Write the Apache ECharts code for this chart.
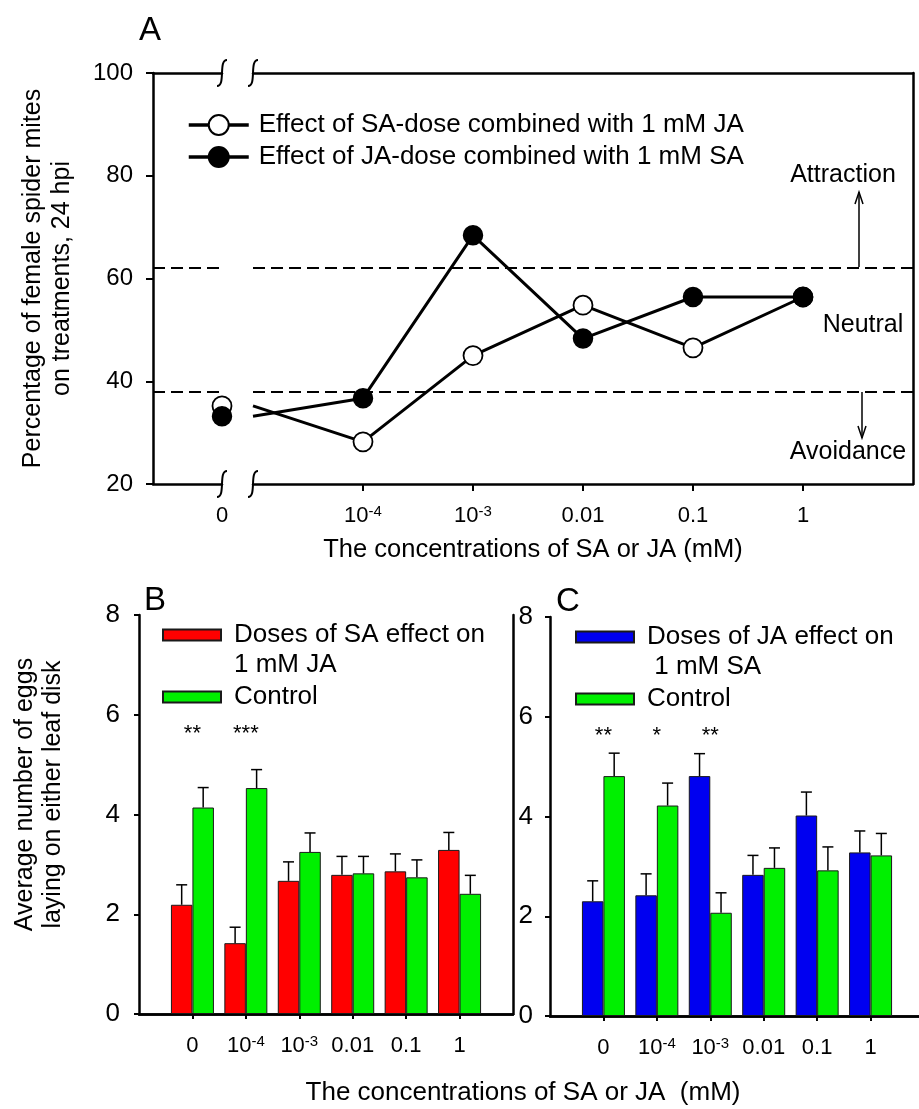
<!DOCTYPE html>
<html><head><meta charset="utf-8">
<script src="https://cdn.jsdelivr.net/npm/echarts@6/dist/echarts.min.js"></script>
<style>html,body{margin:0;padding:0;background:#fff}#c{width:919px;height:1109px}</style>
</head><body><div id="c"></div>
<script>
// ---------- Panel A data ----------
const concA = ['0', '10^-4', '10^-3', '0.01', '0.1', '1'];
const saDoseWithJA = [35.2, 28.2, 45.0, 54.8, 46.5, 56.4];   // open circles
const jaDoseWithSA = [33.2, 36.7, 68.4, 48.3, 56.4, 56.4];   // filled circles
const attractionLevel = 62;
const avoidanceLevel = 38;
const yTicksA = [20, 40, 60, 80, 100];

// ---------- Panel B / C data ----------
const concBC = ['0', '10^-4', '10^-3', '0.01', '0.1', '1'];
const saDoseEggs = [2.19, 1.42, 2.67, 2.79, 2.86, 3.29];
const saDoseErr  = [0.40, 0.32, 0.38, 0.37, 0.35, 0.35];
const ctrlBEggs  = [4.14, 4.53, 3.25, 2.82, 2.74, 2.41];
const ctrlBErr   = [0.40, 0.37, 0.38, 0.34, 0.35, 0.37];
const starsB     = ['**', '***', '', '', '', ''];
const jaDoseEggs = [2.30, 2.42, 4.81, 2.83, 4.02, 3.28];
const jaDoseErr  = [0.41, 0.43, 0.45, 0.39, 0.47, 0.43];
const ctrlCEggs  = [4.81, 4.22, 2.07, 2.97, 2.92, 3.22];
const ctrlCErr   = [0.46, 0.45, 0.40, 0.40, 0.47, 0.44];
const starsC     = ['**', '*', '**', '', '', ''];
const starLevel = 5.62;

const OPEN_NAME = 'Effect of SA-dose combined with 1 mM JA';
const FILLED_NAME = 'Effect of JA-dose combined with 1 mM SA';
const SA_NAME = 'Doses of SA effect on 1 mM JA';
const JA_NAME = 'Doses of JA effect on 1 mM SA';
const CTRL_NAME = 'Control';

const FONT = 'Liberation Sans, Arial, sans-serif';
const BAR_W = 21.5, CAP = 5.5;

const catsA0 = ['', concA[0]];
const catsA1 = [''].concat(concA.slice(1), ['']);
const catsBC = [''].concat(concBC, ['']);

function supFmt(v) {
  if (!v) return '';
  const m = v.match(/^(.*)\^(.*)$/);
  return m ? '{base|' + m[1] + '}{sup|' + m[2] + '}' : '{base|' + v + '}';
}
const supRich = {
  base: { fontSize: 22, fontFamily: FONT, color: '#000', lineHeight: 24 },
  sup: { fontSize: 15, fontFamily: FONT, color: '#000', verticalAlign: 'top', lineHeight: 14 }
};

const LW = 2.5;
function frameX(grid, data, pos) {
  return { gridIndex: grid, type: 'category', data: data, position: pos, boundaryGap: false,
    axisLine: { show: true, lineStyle: { color: '#000', width: LW } },
    axisTick: { show: false }, axisLabel: { show: false }, splitLine: { show: false } };
}
function frameY(grid, min, max, pos) {
  return { gridIndex: grid, type: 'value', min: min, max: max, position: pos,
    axisLine: { show: true, onZero: false, lineStyle: { color: '#000', width: LW } },
    axisTick: { show: false }, axisLabel: { show: false }, splitLine: { show: false } };
}
function catX(grid, data, fontSize, margin, tickLen, showTick) {
  return { gridIndex: grid, type: 'category', data: data, position: 'bottom', boundaryGap: false,
    axisLine: { show: true, onZero: false, lineStyle: { color: '#000', width: LW } },
    axisTick: { show: showTick, length: tickLen, lineStyle: { color: '#000', width: 2 },
      interval: function (i) { return i > 0 && i < data.length - 1; } },
    axisLabel: { interval: 0, color: '#000', fontSize: fontSize, fontFamily: FONT, margin: margin,
      lineHeight: 24, formatter: supFmt, rich: supRich },
    splitLine: { show: false } };
}

const dashed = { type: [12, 6], color: '#000', width: 2 };
function levelLines() {
  return { silent: true, symbol: ['none', 'none'], label: { show: false }, lineStyle: dashed,
    emphasis: { disabled: true },
    data: [{ yAxis: attractionLevel }, { yAxis: avoidanceLevel }] };
}
function lineSeries(name, xi, yi, data, filled, withMark) {
  const s = { name: name, type: 'line', xAxisIndex: xi, yAxisIndex: yi, data: data,
    symbol: 'circle', symbolSize: 19, clip: false, z: filled ? 4 : 3,
    itemStyle: filled ? { color: '#000', borderColor: '#000', borderWidth: 1.5 }
                      : { color: '#fff', borderColor: '#000', borderWidth: 1.8 },
    lineStyle: { color: '#000', width: 3 } };
  if (withMark) s.markLine = levelLines();
  return s;
}
function mainData(vals) {
  return vals.map(function (v, i) { return i === 0 ? { value: v, symbol: 'none' } : v; }).concat(['-']);
}
function barSeries(name, xi, yi, vals, color) {
  return { name: name, type: 'bar', xAxisIndex: xi, yAxisIndex: yi, barWidth: BAR_W, barGap: '0%',
    data: ['-'].concat(vals, ['-']),
    itemStyle: { color: color, borderColor: '#1a1a1a', borderWidth: 1 } };
}
function errSeries(xi, yi, vals, errs, side) {
  return { type: 'custom', xAxisIndex: xi, yAxisIndex: yi, silent: true, z: 5,
    data: vals.map(function (v, i) { return [i + 1, v, errs[i]]; }),
    renderItem: function (params, api) {
      const x = api.value(0), v = api.value(1), e = api.value(2);
      const p0 = api.coord([x, v]), p1 = api.coord([x, v + e]);
      const dx = side * BAR_W / 2;
      const st = { stroke: '#000', lineWidth: 1.5 };
      return { type: 'group', children: [
        { type: 'line', shape: { x1: p0[0] + dx, y1: p0[1], x2: p1[0] + dx, y2: p1[1] }, style: st },
        { type: 'line', shape: { x1: p1[0] + dx - CAP, y1: p1[1], x2: p1[0] + dx + CAP, y2: p1[1] }, style: st }
      ] };
    } };
}
function starSeries(xi, yi, stars) {
  const items = [];
  stars.forEach(function (s, i) { if (s) items.push({ value: [i + 1, starLevel], txt: s }); });
  return { type: 'custom', xAxisIndex: xi, yAxisIndex: yi, silent: true, z: 6,
    data: items.map(function (d) { return d.value; }),
    renderItem: function (params, api) {
      const p = api.coord([api.value(0), api.value(1)]);
      return { type: 'text', style: { text: items[params.dataIndex].txt, x: p[0], y: p[1],
        align: 'center', verticalAlign: 'middle', fill: '#000', font: '22px ' + FONT } };
    } };
}
function brk(x, y) {
  return { type: 'bezierCurve', silent: true,
    shape: { x1: x + 5, y1: y - 13, cpx1: x - 4, cpy1: y - 13, cpx2: x + 4, cpy2: y + 13, x2: x - 5, y2: y + 13 },
    style: { stroke: '#000', lineWidth: 2, fill: null } };
}
function txt(t, x, y, size) {
  return { type: 'text', silent: true, x: x, y: y,
    style: { text: t, fill: '#000', font: size + 'px ' + FONT, align: 'center', verticalAlign: 'middle' } };
}

const chart = echarts.init(document.getElementById('c'), null, { renderer: 'canvas' });
chart.setOption({
  animation: false,
  backgroundColor: '#fff',
  textStyle: { fontFamily: FONT, color: '#000' },
  title: [
    { text: 'A', left: 145, top: 9, textAlign: 'center', textStyle: { fontSize: 33, fontWeight: 'normal', color: '#000', fontFamily: FONT } },
    { text: 'B', left: 150, top: 579, textAlign: 'center', textStyle: { fontSize: 33, fontWeight: 'normal', color: '#000', fontFamily: FONT } },
    { text: 'C', left: 563, top: 580, textAlign: 'center', textStyle: { fontSize: 33, fontWeight: 'normal', color: '#000', fontFamily: FONT } },
    { text: 'The concentrations of SA or JA  (mM)', left: 518, top: 1075, textAlign: 'center',
      textStyle: { fontSize: 26, fontWeight: 'normal', color: '#000', fontFamily: FONT } }
  ],
  legend: [
    { data: [OPEN_NAME, FILLED_NAME], orient: 'vertical', left: 182, top: 105, itemWidth: 60, itemHeight: 25,
      itemGap: 2, selectedMode: false, lineStyle: { width: 3.5, color: '#000' },
      textStyle: { fontSize: 26, lineHeight: 30, color: '#000', fontFamily: FONT, padding: [0, 0, 0, 5] } },
    { data: [SA_NAME, CTRL_NAME], orient: 'vertical', left: 157, top: 585, itemWidth: 58, itemHeight: 11,
      itemGap: 2, icon: 'rect', selectedMode: false,
      formatter: function (n) { return n === SA_NAME ? '\nDoses of SA effect on\n1 mM JA' : n; },
      textStyle: { fontSize: 26, lineHeight: 30, color: '#000', fontFamily: FONT, padding: [0, 0, 0, 8] } },
    { data: [JA_NAME, CTRL_NAME], orient: 'vertical', left: 570, top: 587, itemWidth: 58, itemHeight: 11,
      itemGap: 2, icon: 'rect', selectedMode: false,
      formatter: function (n) { return n === JA_NAME ? '\nDoses of JA effect on\n 1 mM SA' : n; },
      textStyle: { fontSize: 26, lineHeight: 30, color: '#000', fontFamily: FONT, padding: [0, 0, 0, 8] } }
  ],
  grid: [
    { left: 153, top: 73, width: 69, height: 411, outerBoundsMode: 'none' },
    { left: 253, top: 73, width: 660, height: 411, outerBoundsMode: 'none' },
    { left: 139, top: 615, width: 374, height: 399, outerBoundsMode: 'none' },
    { left: 550, top: 617, width: 374, height: 399, outerBoundsMode: 'none' }
  ],
  xAxis: [
    catX(0, catsA0, 22, 20, 7, false),
    frameX(0, catsA0, 'top'),
    Object.assign(catX(1, catsA1, 22, 20, 7, true), {
      name: 'The concentrations of SA or JA (mM)', nameLocation: 'middle', nameGap: 53, nameMoveOverlap: false,
      nameTextStyle: { fontSize: 25.5, color: '#000', fontFamily: FONT, padding: [0, 100, 0, 0] } }),
    frameX(1, catsA1, 'top'),
    catX(2, catsBC, 22, 20, 5, true),
    frameX(2, catsBC, 'top'),
    catX(3, catsBC, 22, 20, 5, true),
    frameX(3, catsBC, 'top')
  ],
  yAxis: [
    { gridIndex: 0, type: 'value', min: yTicksA[0], max: yTicksA[yTicksA.length - 1], interval: 20,
      axisLine: { show: true, onZero: false, lineStyle: { color: '#000', width: LW } },
      axisTick: { show: true, length: 7, lineStyle: { color: '#000', width: 2 } },
      axisLabel: { color: '#000', fontSize: 24, fontFamily: FONT, margin: 20 },
      splitLine: { show: false },
      name: 'Percentage of female spider mites\non treatments, 24 hpi', nameLocation: 'middle', nameRotate: 90,
      nameGap: 76, nameMoveOverlap: false,
      nameTextStyle: { fontSize: 25, lineHeight: 29, color: '#000', fontFamily: FONT } },
    { gridIndex: 1, type: 'value', min: yTicksA[0], max: yTicksA[yTicksA.length - 1], show: false },
    frameY(1, yTicksA[0], yTicksA[yTicksA.length - 1], 'right'),
    { gridIndex: 2, type: 'value', min: 0, max: 8, interval: 2,
      axisLine: { show: true, onZero: false, lineStyle: { color: '#000', width: LW } },
      axisTick: { show: true, length: 5, lineStyle: { color: '#000', width: 2 } },
      axisLabel: { color: '#000', fontSize: 26, fontFamily: FONT, margin: 19 },
      splitLine: { show: false },
      name: 'Average number of eggs\nlaying on either leaf disk', nameLocation: 'middle', nameRotate: 90,
      nameGap: 72, nameMoveOverlap: false,
      nameTextStyle: { fontSize: 25, lineHeight: 28, color: '#000', fontFamily: FONT, padding: [0, 0, 0, 40] } },
    frameY(2, 0, 8, 'right'),
    { gridIndex: 3, type: 'value', min: 0, max: 8, interval: 2,
      axisLine: { show: true, onZero: false, lineStyle: { color: '#000', width: LW } },
      axisTick: { show: true, length: 5, lineStyle: { color: '#000', width: 2 } },
      axisLabel: { color: '#000', fontSize: 26, fontFamily: FONT, margin: 17 },
      splitLine: { show: false } },
    frameY(3, 0, 8, 'right')
  ],
  series: [
    lineSeries(OPEN_NAME, 0, 0, ['-', saDoseWithJA[0]], false, true),
    lineSeries(FILLED_NAME, 0, 0, ['-', jaDoseWithSA[0]], true, false),
    lineSeries(OPEN_NAME, 2, 1, mainData(saDoseWithJA), false, true),
    lineSeries(FILLED_NAME, 2, 1, mainData(jaDoseWithSA), true, false),

    barSeries(SA_NAME, 4, 3, saDoseEggs, '#ff0000'),
    barSeries(CTRL_NAME, 4, 3, ctrlBEggs, '#00f000'),
    errSeries(4, 3, saDoseEggs, saDoseErr, -1),
    errSeries(4, 3, ctrlBEggs, ctrlBErr, 1),
    starSeries(4, 3, starsB),

    barSeries(JA_NAME, 6, 5, jaDoseEggs, '#0000f0'),
    barSeries(CTRL_NAME, 6, 5, ctrlCEggs, '#00f000'),
    errSeries(6, 5, jaDoseEggs, jaDoseErr, -1),
    errSeries(6, 5, ctrlCEggs, ctrlCErr, 1),
    starSeries(6, 5, starsC)
  ],
  graphic: [
    brk(222, 73), brk(253, 73), brk(222, 484), brk(253, 484),
    { type: 'line', silent: true, shape: { x1: 859, y1: 267, x2: 859, y2: 192 }, style: { stroke: '#000', lineWidth: 1.5 } },
    { type: 'polyline', silent: true, shape: { points: [[855, 204], [859, 192], [863, 204]] }, style: { stroke: '#000', lineWidth: 1.5, fill: null } },
    { type: 'line', silent: true, shape: { x1: 862, y1: 392, x2: 862, y2: 438 }, style: { stroke: '#000', lineWidth: 1.5 } },
    { type: 'polyline', silent: true, shape: { points: [[858, 426], [862, 438], [866, 426]] }, style: { stroke: '#000', lineWidth: 1.5, fill: null } },
    txt('Attraction', 843, 175, 25),
    txt('Neutral', 863, 325, 25),
    txt('Avoidance', 848, 452, 25)
  ]
});
</script></body></html>
